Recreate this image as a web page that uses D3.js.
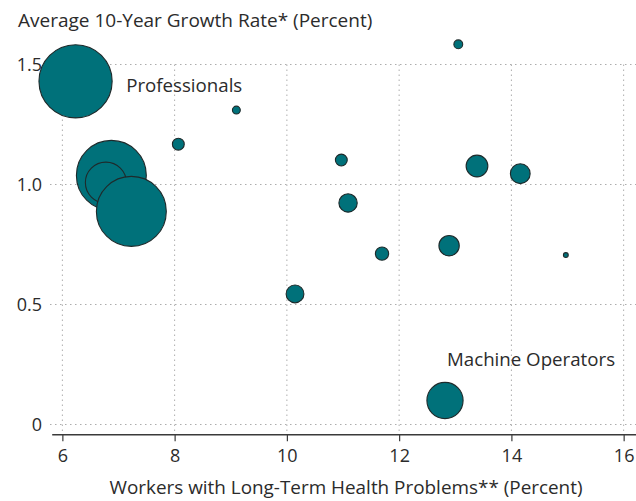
<!DOCTYPE html>
<html>
<head>
<meta charset="utf-8">
<script src="https://cdn.jsdelivr.net/npm/d3@7"></script>
<style>
  body { margin: 0; background: #fff; }
  text { font-family: "Open Sans", sans-serif; fill: #2b2b2b; }
</style>
</head>
<body>
<svg id="chart" width="636" height="501"></svg>
<script>
// occupations (only two are labelled in the original)
var names = ["Professionals", "", "", "", "", "", "", "", "", "", "", "", "", "", "", "Machine Operators"];
// workers with long-term health problems (percent)
var healthShare = [6.235, 6.873, 6.775, 7.229, 8.066, 9.10, 13.054, 10.97, 13.387, 14.158, 11.09, 11.695, 12.89, 14.97, 10.145, 12.817];
// average 10-year growth rate (percent)
var growthRate = [1.430, 1.038, 1.008, 0.888, 1.168, 1.31, 1.584, 1.102, 1.077, 1.045, 0.923, 0.712, 0.745, 0.706, 0.544, 0.100];
// bubble size (employment, relative)
var employment = [137, 125, 43, 125, 3.6, 1.6, 2.0, 3.6, 12.1, 10, 8.6, 4.5, 10.6, 0.6, 8.1, 33.5];

var xTicks = [6, 8, 10, 12, 14, 16];
var yTicks = [0, 0.5, 1.0, 1.5];

var data = names.map(function (n, i) {
  return { name: n, x: healthShare[i], y: growthRate[i], size: employment[i] };
});

var svg = d3.select("svg#chart");

/* Scales */
var xScale = d3.scaleLinear().domain([5.81, 16.22]).range([51.7, 636]);
var yScale = d3.scaleLinear().domain([0, 1.5]).range([424.5, 64.5]);
var rScale = d3.scaleSqrt().domain([0, 137]).range([0, 36.6]);
var axisY = 434.3;

/* Grid */
var grid = svg.append("g").attr("class", "grid")
  .style("stroke", "#adadad")
  .style("stroke-width", "1px")
  .style("stroke-dasharray", "1.5,3.5");

grid.selectAll(".hgrid")
  .data(yTicks).enter()
  .append("line")
  .attr("x1", 50).attr("x2", 636)
  .attr("y1", d => yScale(d)).attr("y2", d => yScale(d));

grid.selectAll(".vgrid")
  .data(xTicks).enter()
  .append("line")
  .attr("x1", d => xScale(d)).attr("x2", d => xScale(d))
  .attr("y1", yScale(1.5)).attr("y2", axisY);

/* Axes */
var xAxis = svg.append("g")
  .attr("transform", "translate(0," + axisY + ")")
  .call(d3.axisBottom(xScale).tickValues(xTicks).tickSize(7).tickSizeOuter(0).tickPadding(8));
xAxis.select(".domain").attr("stroke", "#3a3a3a").attr("stroke-width", 1.4);
xAxis.selectAll(".tick line").attr("stroke", "#3a3a3a").attr("stroke-width", 1.2);
xAxis.selectAll(".tick text")
  .style("font-family", "'Open Sans', sans-serif")
  .style("font-size", "18px")
  .style("fill", "#2b2b2b");

var yAxis = svg.append("g")
  .attr("transform", "translate(51,0)")
  .call(d3.axisLeft(yScale).tickValues(yTicks).tickSize(0).tickPadding(9)
    .tickFormat(d => d === 0 ? "0" : d3.format(".1f")(d)));
yAxis.select(".domain").remove();
yAxis.selectAll(".tick text")
  .style("font-family", "'Open Sans', sans-serif")
  .style("font-size", "18px")
  .style("fill", "#2b2b2b");

/* Bubbles */
svg.append("g").attr("class", "bubbles")
  .selectAll("circle")
  .data(data).enter()
  .append("circle")
  .attr("cx", d => xScale(d.x))
  .attr("cy", d => yScale(d.y))
  .attr("r", d => rScale(d.size))
  .style("fill", "#00717a")
  .style("stroke", "#1e2a2b")
  .style("stroke-width", "1.1px");

/* Labels */
svg.append("g").attr("class", "labels")
  .selectAll("text")
  .data(data.filter(d => d.name !== "")).enter()
  .append("text")
  .attr("x", d => d.name === "Professionals" ? xScale(d.x) + rScale(d.size) + 14 : xScale(d.x) + 2)
  .attr("y", d => d.name === "Professionals" ? yScale(d.y) + 11 : yScale(d.y) - rScale(d.size) - 16)
  .style("font-size", "18.7px")
  .text(d => d.name);

/* Titles */
svg.append("text")
  .attr("x", 18).attr("y", 27)
  .style("font-size", "19px")
  .text("Average 10-Year Growth Rate* (Percent)");

svg.append("text")
  .attr("x", 346).attr("y", 494)
  .attr("text-anchor", "middle")
  .style("font-size", "18.9px")
  .text("Workers with Long-Term Health Problems** (Percent)");
</script>
</body>
</html>
